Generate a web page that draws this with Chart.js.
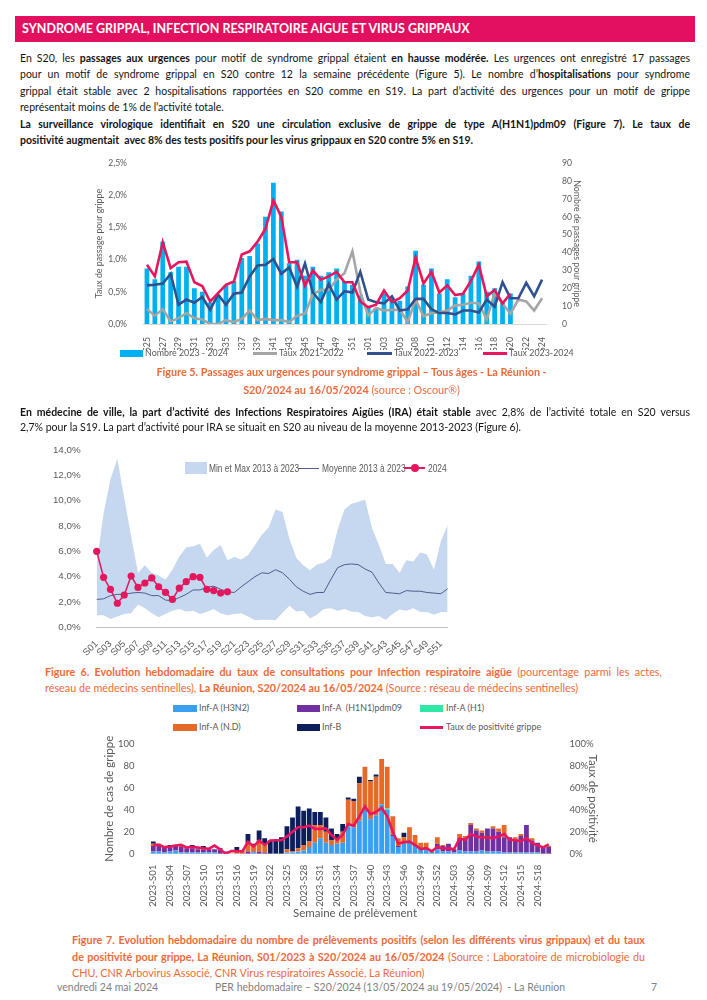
<!DOCTYPE html>
<html>
<head>
<meta charset="utf-8">
<script src="https://cdn.jsdelivr.net/npm/chart.js@4.4.1/dist/chart.umd.min.js"></script>
<style>
body { margin: 0; width: 707px; height: 1000px; position: relative; background: #fff; font-family: Lato, sans-serif; overflow: hidden; }
.t { position: absolute; white-space: nowrap; line-height: 14px; font-size: 10.5px; color: #141414; }
.b { font-weight: bold; }
.cap { color: #ee6a3a; font-size: 10.8px; }
.lg { position: absolute; font-size: 8.9px; color: #595959; white-space: nowrap; line-height: 12px; }
.lg2 { position: absolute; font-family: 'Liberation Sans', sans-serif; font-size: 10.5px; line-height: 14px; color: #595959; white-space: nowrap; transform: scaleX(0.8); transform-origin: 0 0; }
.sw { position: absolute; }
canvas { position: absolute; }
#head { position: absolute; left: 15px; top: 16px; width: 680px; height: 26px; background: #e2105e; color: #fff; font-weight: bold; font-size: 12.5px; line-height: 26px; padding-left: 7px; box-sizing: border-box; }
.foot { position: absolute; top: 981px; font-size: 10.5px; color: #7f7f7f; white-space: nowrap; }
</style>
</head>
<body>
<div id="head">SYNDROME GRIPPAL, INFECTION RESPIRATOIRE AIGUE ET VIRUS GRIPPAUX</div>

<div class="t fit" data-w="670" style="left:20px;top:51px">En S20, les <b>passages aux urgences</b> pour motif de syndrome grippal étaient <b>en hausse modérée.</b> Les urgences ont enregistré 17 passages</div>
<div class="t fit" data-w="670" style="left:20px;top:67px">pour un motif de syndrome grippal en S20 contre 12 la semaine précédente (Figure 5). Le nombre d’<b>hospitalisations</b> pour syndrome</div>
<div class="t fit" data-w="670" style="left:20px;top:84px">grippal était stable avec 2 hospitalisations rapportées en S20 comme en S19. La part d’activité des urgences pour un motif de grippe</div>
<div class="t" style="left:20px;top:100px">représentait moins de 1% de l’activité totale.</div>
<div class="t b fit" data-w="670" style="left:20px;top:117px">La surveillance virologique identifiait en S20 une circulation exclusive de grippe de type A(H1N1)pdm09 (Figure 7). Le taux de</div>
<div class="t b" style="left:20px;top:133px">positivité augmentait&nbsp; avec 8% des tests positifs pour les virus grippaux en S20 contre 5% en S19.</div>

<canvas id="c1" width="506" height="200" style="left:80px;top:150px;width:506px;height:200px"></canvas>
<div class="sw" style="left:120px;top:350px;width:23px;height:7px;background:#00b0f0"></div>
<div class="lg" style="left:145px;top:347px">Nombre 2023 - 2024</div>
<div class="sw" style="left:253px;top:352px;width:24px;height:3px;background:#a5a5a5"></div>
<div class="lg" style="left:279px;top:347px">Taux 2021-2022</div>
<div class="sw" style="left:367px;top:352px;width:25px;height:3px;background:#2f528f"></div>
<div class="lg" style="left:394px;top:347px">Taux 2022-2023</div>
<div class="sw" style="left:483px;top:352px;width:24px;height:3px;background:#e8175d"></div>
<div class="lg" style="left:509px;top:347px">Taux 2023-2024</div>

<div class="t cap b" style="left:0;top:365px;width:703px;text-align:center">Figure 5. Passages aux urgences pour syndrome grippal – Tous âges - La Réunion -</div>
<div class="t cap" style="left:0;top:383px;width:703px;text-align:center"><b>S20/2024 au 16/05/2024</b> (source : Oscour®)</div>

<div class="t fit" data-w="670" style="left:20px;top:405px"><b>En médecine de ville, la part d’activité des Infections Respiratoires Aigües (IRA) était stable</b> avec 2,8% de l’activité totale en S20 versus</div>
<div class="t" style="left:20px;top:420px">2,7% pour la S19. La part d’activité pour IRA se situait en S20 au niveau de la moyenne 2013-2023 (Figure 6).</div>

<canvas id="c2" width="420" height="225" style="left:40px;top:435px;width:420px;height:225px"></canvas>
<div class="sw" style="left:185px;top:462px;width:22px;height:12px;background:#c5d8ef"></div>
<div class="lg2" style="left:209px;top:461px">Min et Max 2013 à 2023</div>
<div class="sw" style="left:298px;top:468px;width:21px;height:1px;background:#4e5d8c"></div>
<div class="lg2" style="left:322px;top:461px">Moyenne 2013 à 2023</div>
<div class="sw" style="left:404px;top:467px;width:21px;height:2px;background:#e3175d"></div>
<div class="sw" style="left:411px;top:464px;width:8px;height:8px;border-radius:4px;background:#e3175d"></div>
<div class="lg2" style="left:428px;top:461px">2024</div>

<div class="t cap fit" data-w="617" style="left:45px;top:665px"><b>Figure 6. Evolution hebdomadaire du taux de consultations pour Infection respiratoire aigüe</b> (pourcentage parmi les actes,</div>
<div class="t cap" style="left:45px;top:681px">réseau de médecins sentinelles), <b>La Réunion, S20/2024 au 16/05/2024</b> (Source : réseau de médecins sentinelles)</div>

<div class="sw" style="left:173px;top:705px;width:24px;height:7px;background:#3a9ff0"></div>
<div class="lg" style="left:199px;top:702px">Inf-A (H3N2)</div>
<div class="sw" style="left:297px;top:705px;width:23px;height:7px;background:#7030a0"></div>
<div class="lg" style="left:322px;top:702px">Inf-A&nbsp; (H1N1)pdm09</div>
<div class="sw" style="left:420px;top:705px;width:23px;height:7px;background:#2ee8a6"></div>
<div class="lg" style="left:446px;top:702px">Inf-A (H1)</div>
<div class="sw" style="left:173px;top:724px;width:24px;height:7px;background:#e46a2a"></div>
<div class="lg" style="left:199px;top:721px">Inf-A (N.D)</div>
<div class="sw" style="left:297px;top:724px;width:23px;height:7px;background:#0c1f5c"></div>
<div class="lg" style="left:322px;top:721px">Inf-B</div>
<div class="sw" style="left:420px;top:726px;width:23px;height:3px;background:#e8175d"></div>
<div class="lg" style="left:446px;top:721px">Taux de positivité grippe</div>

<canvas id="c3" width="505" height="182" style="left:95px;top:728px;width:505px;height:182px"></canvas>
<div class="t" style="left:0;top:906px;width:710px;text-align:center;font-size:11.5px;color:#595959">Semaine de prélèvement</div>

<div class="t cap b fit" data-w="573" style="left:72px;top:933px">Figure 7. Evolution hebdomadaire du nombre de prélèvements positifs (selon les différents virus grippaux) et du taux</div>
<div class="t cap fit" data-w="573" style="left:72px;top:950px"><b>de positivité pour grippe, La Réunion, S01/2023 à S20/2024 au 16/05/2024</b> (Source : Laboratoire de microbiologie du</div>
<div class="t cap" style="left:72px;top:966px">CHU, CNR Arbovirus Associé, CNR Virus respiratoires Associé, La Réunion)</div>

<div class="foot" style="left:57px">vendredi 24 mai 2024</div>
<div class="foot" style="left:215px">PER hebdomadaire – S20/2024 (13/05/2024 au 19/05/2024)&nbsp; - La Réunion</div>
<div class="foot" style="left:651px">7</div>

<script>
// justified lines: squeeze a little if the font is wider than the original
document.querySelectorAll('.fit').forEach(function (el) {
  var w = +el.dataset.w;
  var natural = el.getBoundingClientRect().width;
  if (natural > w - 2) {
    el.style.letterSpacing = ((w - 2 - natural) / el.textContent.length) + 'px';
  }
  el.style.width = w + 'px';
  el.style.whiteSpace = 'normal';
  el.style.textAlign = 'justify';
  el.style.textAlignLast = 'justify';
});

const grey = '#595959';

// Figure 5 - passages aux urgences
const weeks1 = ['S25','S26','S27','S28','S29','S30','S31','S32','S33','S34','S35','S36','S37','S38','S39','S40',
  'S41','S42','S43','S44','S45','S46','S47','S48','S49','S50','S51','S52','S01','S02','S03','S04','S05','S06',
  'S08','S09','S10','S11','S12','S13','S14','S15','S16','S17','S18','S19','S20','S21','S22','S23','S24'];
const nombre2324 = [31,25,46,29,32,32,20,18,12,16,22,24,37,38,45,60,79,63,34,36,27,32,27,29,31,24,22,16,10,9,
  17,15,13,21,41,22,31,17,25,15,17,27,35,18,20,12,17];
const taux2122 = [0.23,0.13,0.23,0.04,0.09,0.17,0.09,0.07,0.00,0.00,0.06,0.03,0.08,0.21,0.06,0.08,0.06,0.06,0.03,0.13,
  0.16,0.46,0.53,0.53,0.69,0.79,1.13,0.50,0.13,0.25,0.21,0.22,0.22,0.03,0.38,0.12,0.17,0.18,0.21,0.29,
  0.30,0.33,0.32,0.07,0.48,0.32,0.16,0.38,0.35,0.21,0.40];
const taux2223 = [0.60,0.61,0.63,0.78,0.30,0.38,0.33,0.42,0.22,0.46,0.30,0.47,0.49,0.74,0.91,0.92,1.01,0.78,0.88,0.58,
  0.94,0.49,0.34,0.62,0.38,0.51,0.49,0.81,0.38,0.34,0.32,0.43,0.21,0.23,0.39,0.39,0.23,0.17,0.17,0.15,
  0.21,0.21,0.18,0.38,0.27,0.65,0.40,0.40,0.64,0.43,0.69];
const taux2324 = [0.92,0.74,1.27,0.87,0.96,0.97,0.65,0.59,0.35,0.48,0.61,0.66,1.08,1.13,1.28,1.48,1.92,1.67,0.96,0.96,
  0.60,0.83,0.69,0.74,0.81,0.65,0.65,0.35,0.26,0.30,0.52,0.34,0.40,0.52,1.03,0.63,0.81,0.49,0.60,0.45,
  0.47,0.67,0.92,0.43,0.53,0.32,0.47];

// Figure 6 - IRA medecins sentinelles
const weeks2 = [];
for (let i = 1; i <= 52; i++) weeks2.push('S' + (i < 10 ? '0' + i : i));
const iraMax = [5.0,9.0,11.7,13.3,10.2,7.2,4.3,4.9,4.3,4.1,3.75,4.55,5.6,6.3,6.4,6.6,5.5,6.1,6.5,5.3,
  5.55,5.35,5.7,6.5,7.3,7.9,9.3,9.1,7.0,5.5,4.9,4.5,4.95,5.1,5.5,7.7,9.3,9.75,9.9,10.1,
  7.85,6.5,5.0,5.0,4.3,5.3,5.2,5.9,5.75,4.55,6.8,8.1];
const iraMin = [0.95,0.95,0.65,0.85,1.05,1.1,1.8,1.5,1.1,0.8,1.05,1.3,1.45,1.25,1.3,1.05,1.2,1.45,1.1,0.95,
  1.05,1.1,0.85,0.55,0.6,0.6,0.55,1.15,1.7,1.25,1.3,0.7,1.0,1.45,1.5,1.3,1.45,1.25,1.2,0.9,
  0.8,0.9,0.6,1.05,1.4,1.3,1.5,1.2,1.2,1.0,1.2,1.2];
const iraMean = [2.2,2.25,2.5,2.6,2.6,2.7,2.75,2.7,2.5,2.5,2.15,2.1,2.35,2.6,2.95,2.95,3.15,3.25,3.0,2.8,
  2.75,3.2,3.6,4.0,4.3,4.25,4.55,4.3,3.8,3.2,2.85,2.6,2.75,2.75,3.75,4.7,4.95,5.0,4.95,4.6,
  4.35,3.5,2.75,2.7,2.65,2.9,2.85,2.85,2.75,2.7,2.65,3.05];
const ira2024 = [6.0,3.95,3.0,1.9,2.55,4.05,3.15,3.5,3.9,3.2,2.75,2.2,3.1,3.6,4.0,3.95,3.0,2.9,2.7,2.8];

// Figure 7 - prelevements positifs
const weeks3 = [];
for (let i = 1; i <= 52; i++) weeks3.push('2023-S' + (i < 10 ? '0' + i : i));
for (let i = 1; i <= 20; i++) weeks3.push('2024-S' + (i < 10 ? '0' + i : i));
const h3n2 = [2,2,1,2,3,1,1,1,1,1,1,1,0,0,0,0,0,0,1,0,0,0,0,0,1,1,2,3,6,10,14,10,8,9,10,25,24,30,39,31,
  35,45,40,16,6,10,10,7,4,3,2,4,2,2,1,3,2,2,2,3,2,2,2,1,1,1,1,1,1,1,0,0];
const h1n1 = [5,5,5,4,4,5,4,4,3,3,3,3,4,2,0,0,0,2,1,2,1,0,0,0,0,0,0,0,0,0,0,0,0,0,0,0,0,0,1,1,
  0,0,0,1,1,0,1,1,1,1,1,5,5,7,3,11,12,24,19,16,21,21,18,14,14,12,15,25,11,9,6,6];
const h1 = [0,0,0,0,0,0,0,0,0,0,0,0,0,0,0,0,0,0,0,0,0,0,0,0,0,0,0,0,0,0,0,0,0,0,0,0,0,0,0,0,
  0,0,1,0,0,0,0,0,0,0,0,0,0,0,0,0,0,0,0,0,0,0,0,0,0,0,0,0,0,0,0,0];
const nd = [2,2,1,0,1,2,1,1,2,1,1,0,0,0,0,3,3,8,5,10,8,0,0,0,3,1,3,5,5,16,12,10,4,5,10,24,24,34,39,34,
  35,41,38,17,7,5,13,9,5,6,0,6,1,0,0,4,2,2,2,2,0,2,3,11,0,2,2,0,2,0,0,1];
const infB = [2,0,0,2,0,0,0,2,0,2,0,0,1,0,0,3,0,8,2,9,5,12,12,15,21,31,38,31,30,12,12,13,11,4,7,2,2,6,0,1,
  2,0,0,0,0,4,0,0,0,0,0,0,0,0,0,0,0,0,0,0,0,0,0,0,0,0,0,0,0,0,0,0];
const positivite = [8,8,6,6.5,7.4,8,5.7,6.2,5.7,5,4.5,7.4,4,0,2.3,2.3,2,10.8,6.5,12,8,12,12.2,12.2,15.6,20,24,24,25.5,22.6,
  22.6,23,17,12.7,17,27,25.5,34,43,36,38,41.6,34,20,9,10.5,11,8,4.2,5,2.3,6.2,4.8,4.8,4.2,13.6,12.7,17.8,15.6,15,
  14.7,14.2,15.6,17.8,12.7,12.2,11.3,14.2,9.9,7.6,5.7,8.5];

const pct1 = v => v.toFixed(1).replace('.', ',') + '%';

new Chart(document.getElementById('c1'), {
  data: {
    labels: weeks1,
    datasets: [
      { type: 'line', label: 'Taux 2023-2024', data: taux2324, yAxisID: 'y', borderColor: '#e8175d', borderWidth: 2.6, pointRadius: 0, order: 1 },
      { type: 'line', label: 'Taux 2022-2023', data: taux2223, yAxisID: 'y', borderColor: '#2f528f', borderWidth: 2.6, pointRadius: 0, order: 2 },
      { type: 'line', label: 'Taux 2021-2022', data: taux2122, yAxisID: 'y', borderColor: '#a5a5a5', borderWidth: 2.6, pointRadius: 0, order: 3 },
      { type: 'bar', label: 'Nombre 2023 - 2024', data: nombre2324, yAxisID: 'y1', backgroundColor: '#00b0f0', barPercentage: 0.6, categoryPercentage: 1, order: 4 }
    ]
  },
  options: {
    responsive: false, animation: false,
    layout: { padding: { left: 10, top: 13 } },
    plugins: { legend: { display: false }, tooltip: { enabled: false } },
    scales: {
      x: {
        grid: { display: false }, border: { display: true, color: '#d9d9d9' },
        ticks: { autoSkip: false, minRotation: 90, maxRotation: 90, padding: 5, color: grey, font: { family: 'Lato', size: 8.8 },
          callback: function (v, i) { return i % 2 === 0 ? this.getLabelForValue(v) : ''; } },
        afterFit: s => { s.height = 26; }
      },
      y: {
        position: 'left', min: 0, max: 2.5,
        grid: { display: false }, border: { display: false },
        ticks: { stepSize: 0.5, padding: 8, color: grey, font: { family: 'Lato', size: 8.6 }, callback: pct1 },
        title: { display: true, text: 'Taux de passage pour grippe', color: grey, font: { family: 'Lato', size: 8.8 }, padding: { top: 4, bottom: 0 } },
        afterFit: s => { s.width = 53; }
      },
      y1: {
        position: 'right', min: 0, max: 90,
        grid: { display: false }, border: { display: false },
        ticks: { stepSize: 10, padding: 8, color: grey, font: { family: 'Lato', size: 8.6 } },
        title: { display: true, text: 'Nombre de passages pour grippe', color: grey, font: { family: 'Lato', size: 8.8 }, padding: { top: 4, bottom: 0 } },
        afterFit: s => { s.width = 40; }
      }
    }
  }
});

new Chart(document.getElementById('c2'), {
  type: 'line',
  data: {
    labels: weeks2,
    datasets: [
      { label: 'Min et Max 2013 à 2023', data: iraMax, fill: 1, backgroundColor: '#c5d8ef', borderColor: 'rgba(0,0,0,0)', pointRadius: 0, order: 3 },
      { label: 'min', data: iraMin, fill: false, borderColor: 'rgba(0,0,0,0)', pointRadius: 0, order: 3 },
      { label: 'Moyenne 2013 à 2023', data: iraMean, borderColor: '#4e5d8c', borderWidth: 1, pointRadius: 0, order: 2 },
      { label: '2024', data: ira2024, borderColor: '#e3175d', borderWidth: 1.5, pointRadius: 3.6, pointBackgroundColor: '#e3175d', pointBorderWidth: 0, order: 1 }
    ]
  },
  options: {
    responsive: false, animation: false,
    layout: { padding: { top: 15, right: 12.3 } },
    plugins: { legend: { display: false }, tooltip: { enabled: false } },
    scales: {
      x: {
        grid: { display: false }, border: { display: true, color: '#bfbfbf' },
        ticks: { autoSkip: false, minRotation: 45, maxRotation: 45, padding: 3, color: grey, font: { family: 'Liberation Sans', size: 9.5 },
          callback: function (v, i) { return i % 2 === 0 ? this.getLabelForValue(v) : ''; } },
        afterFit: s => { s.height = 32.7; }
      },
      y: {
        min: 0, max: 14,
        grid: { display: false }, border: { display: false },
        ticks: { stepSize: 2, padding: 8, color: grey, font: { family: 'Liberation Sans', size: 9.8 }, callback: pct1 },
        afterFit: s => { s.width = 56.7; }
      }
    }
  }
});

new Chart(document.getElementById('c3'), {
  data: {
    labels: weeks3,
    datasets: [
      { type: 'line', label: 'Taux de positivité grippe', data: positivite, yAxisID: 'y1', borderColor: '#e8175d', borderWidth: 2.6, pointRadius: 0, order: 0 },
      { type: 'bar', label: 'Inf-A (H3N2)', data: h3n2, backgroundColor: '#3a9ff0', order: 1 },
      { type: 'bar', label: 'Inf-A  (H1N1)pdm09', data: h1n1, backgroundColor: '#7030a0', order: 1 },
      { type: 'bar', label: 'Inf-A (H1)', data: h1, backgroundColor: '#2ee8a6', order: 1 },
      { type: 'bar', label: 'Inf-A (N.D)', data: nd, backgroundColor: '#e46a2a', order: 1 },
      { type: 'bar', label: 'Inf-B', data: infB, backgroundColor: '#0c1f5c', order: 1 }
    ]
  },
  options: {
    responsive: false, animation: false,
    datasets: { bar: { barPercentage: 0.86, categoryPercentage: 1 } },
    layout: { padding: { top: 7.7 } },
    plugins: { legend: { display: false }, tooltip: { enabled: false } },
    scales: {
      x: {
        stacked: true,
        grid: { display: false }, border: { display: true, color: '#d9d9d9' },
        ticks: { autoSkip: false, minRotation: 90, maxRotation: 90, padding: 3, color: grey, font: { family: 'Lato', size: 9.6 },
          callback: function (v, i) { return i % 3 === 0 ? this.getLabelForValue(v) : ''; } },
        afterFit: s => { s.height = 56.3; }
      },
      y: {
        stacked: true, min: 0, max: 100,
        grid: { display: false }, border: { display: false },
        ticks: { stepSize: 10, padding: 8, color: grey, font: { family: 'Lato', size: 9.5 } },
        title: { display: true, text: 'Nombre de cas de grippe', color: grey, font: { family: 'Lato', size: 11.5 }, padding: { top: 7.8, bottom: 0 } },
        afterFit: s => { s.width = 55.5; }
      },
      y1: {
        position: 'right', min: 0, max: 100,
        grid: { display: false }, border: { display: false },
        ticks: { stepSize: 10, padding: 10, color: grey, font: { family: 'Lato', size: 9.5 }, callback: v => v + '%' },
        title: { display: true, text: 'Taux de positivité', color: grey, font: { family: 'Lato', size: 11.5 }, padding: { top: 0, bottom: 0 } },
        afterFit: s => { s.width = 48.5; }
      }
    }
  }
});
</script>
</body>
</html>
